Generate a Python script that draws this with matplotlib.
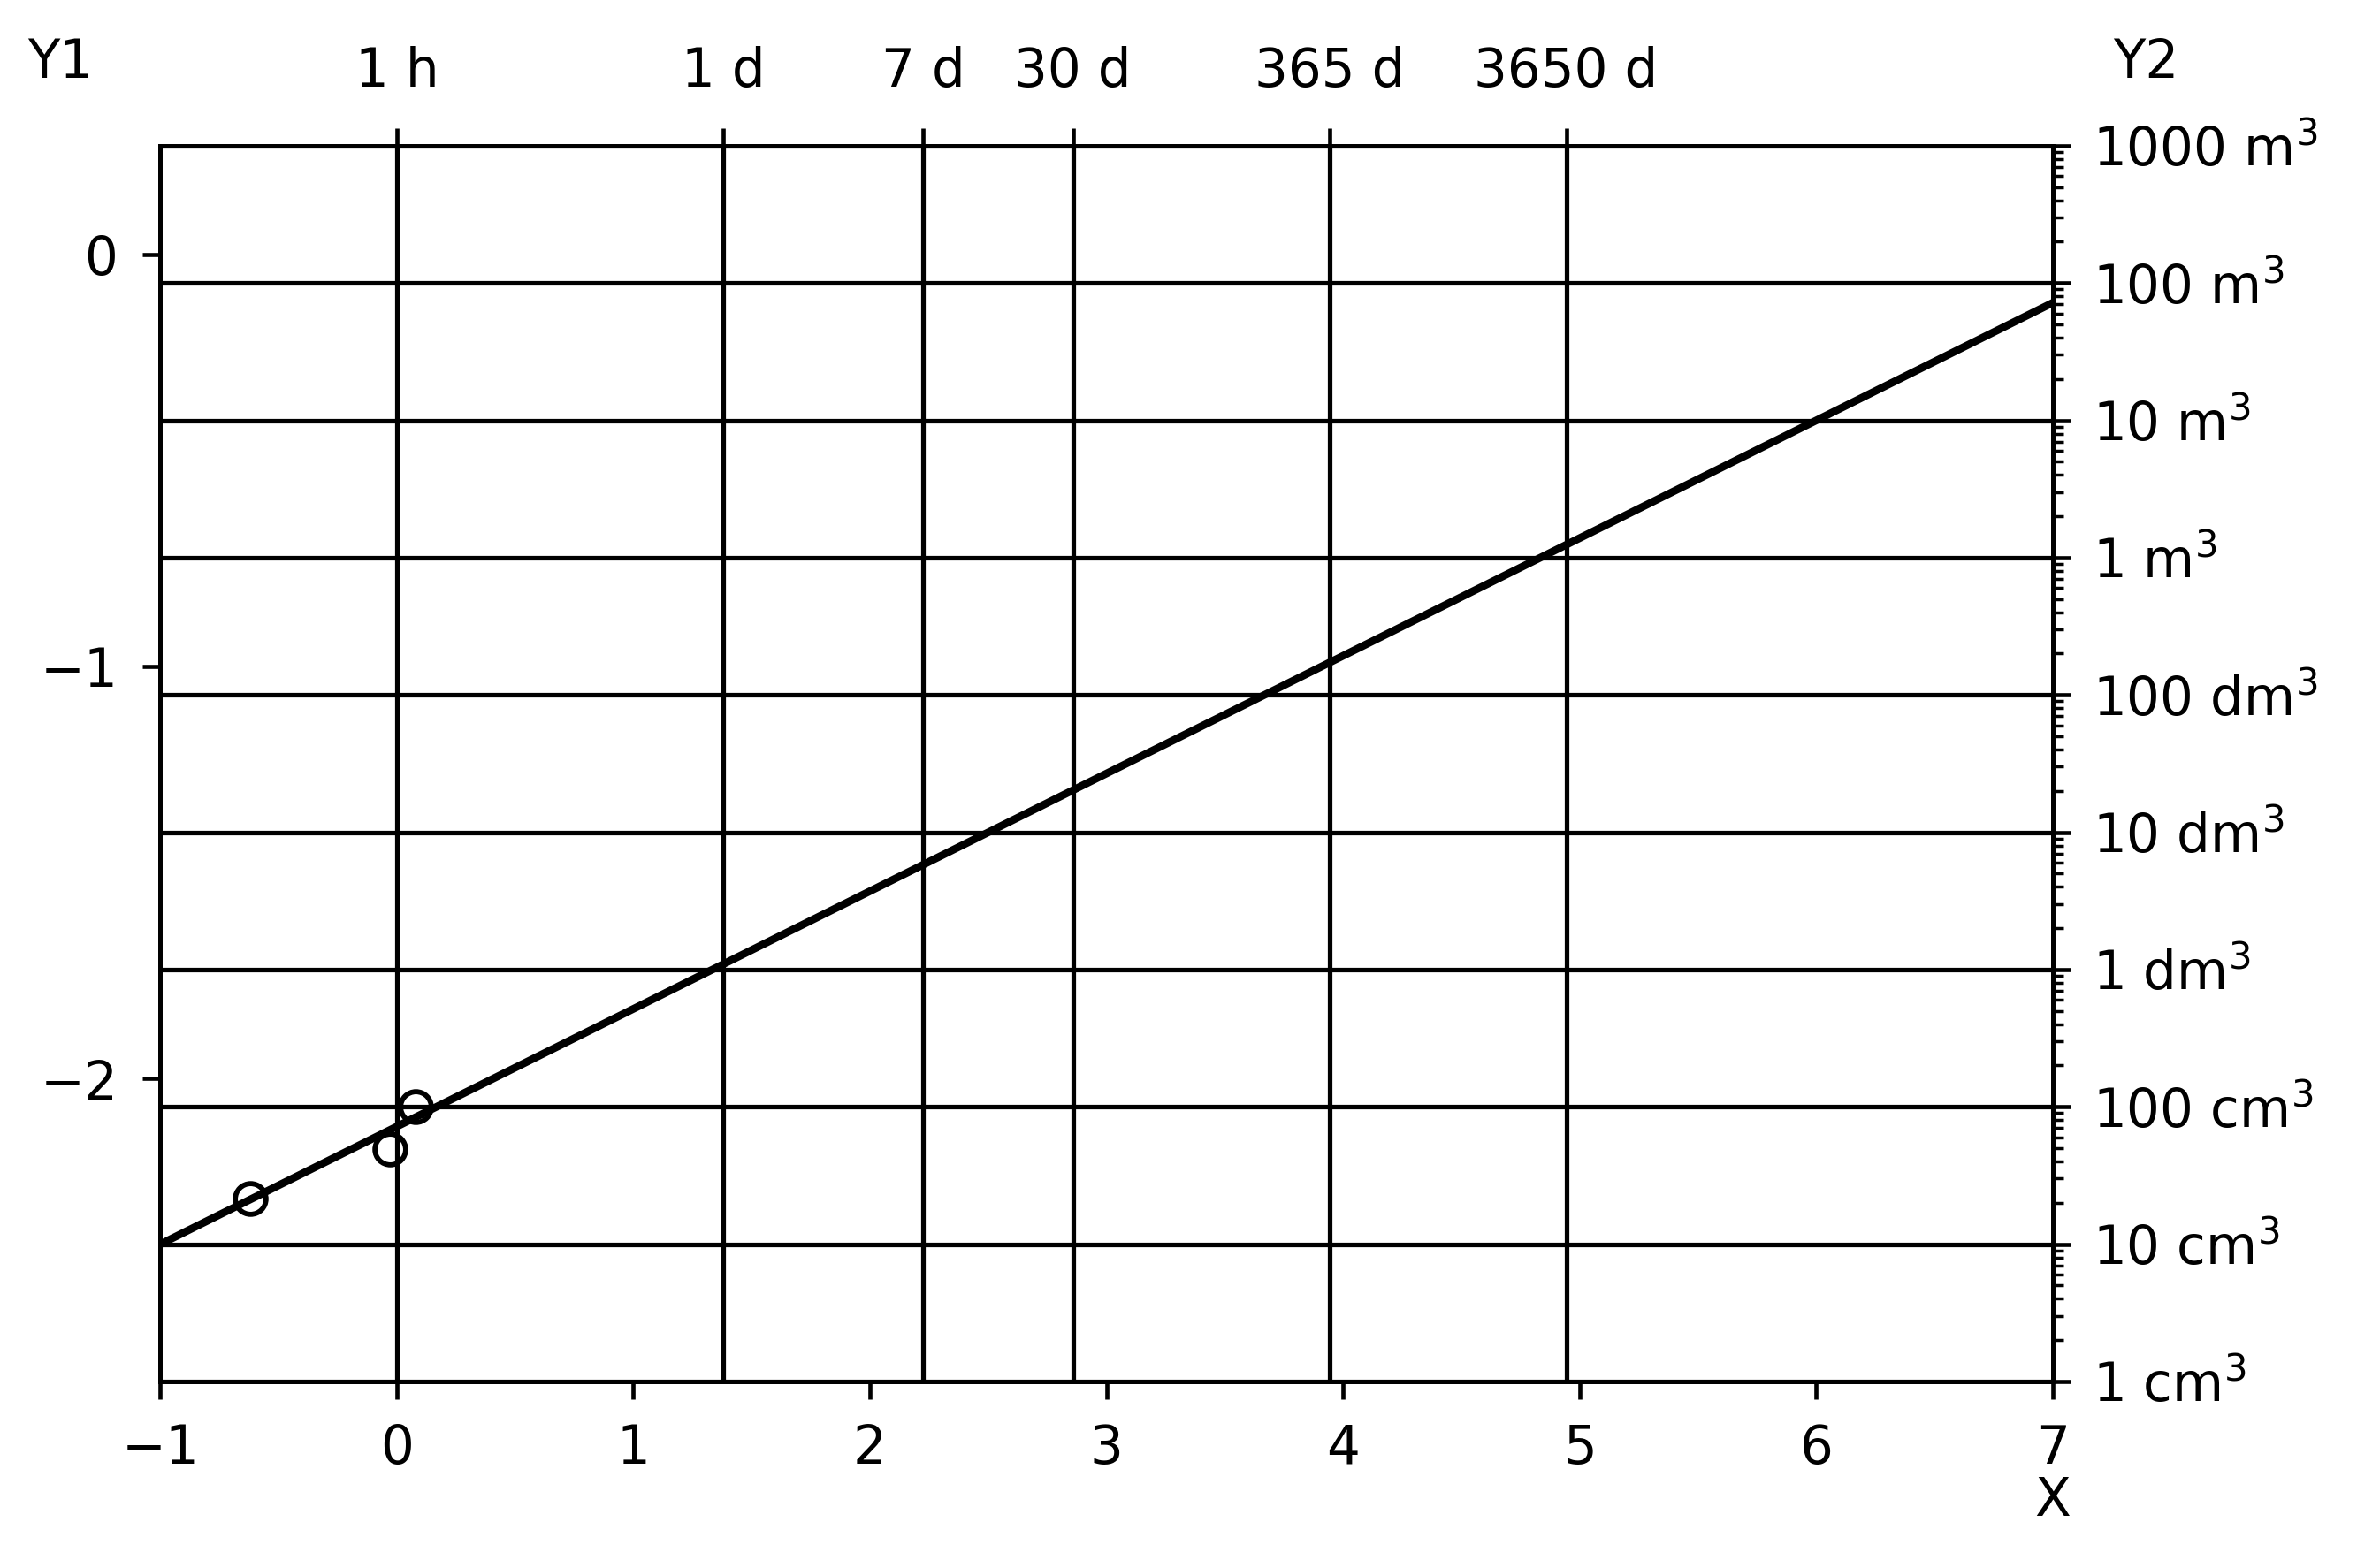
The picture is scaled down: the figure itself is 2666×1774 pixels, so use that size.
import numpy as np
import matplotlib.pyplot as plt
from matplotlib.ticker import LogLocator, NullFormatter

plt.rcParams['font.size'] = 10.3

# fitted line and measured points (X vs Y1)
x_line = [-1, 7]
y_line = [-2.402, -0.116]
x_pts = [-0.62, -0.03, 0.08]
y_pts = [-2.29, -2.17, -2.068]

# top axis: durations in hours, placed at log10(hours)
top_hours = [1, 24, 168, 720, 8760, 87600]
top_labels = ['1 h', '1 d', '7 d', '30 d', '365 d', '3650 d']

# right axis: volumes in m^3
vol_ticks = [1e-6, 1e-5, 1e-4, 1e-3, 1e-2, 1e-1, 1e0, 1e1, 1e2, 1e3]
vol_labels = ['1 cm$^3$', '10 cm$^3$', '100 cm$^3$', '1 dm$^3$', '10 dm$^3$',
              '100 dm$^3$', '1 m$^3$', '10 m$^3$', '100 m$^3$', '1000 m$^3$']

fig = plt.figure(figsize=(6.4, 4.259), dpi=416.5625)
ax = fig.add_axes([0.068, 0.119, 0.803, 0.788])
ax.plot(x_line, y_line, 'k-', lw=1.5, zorder=5)
ax.plot(x_pts, y_pts, 'o', mec='k', mfc='none', ms=6, zorder=6)
ax.set_xlim(-1, 7)
ax.set_ylim(-2.735, 0.265)
ax.set_xticks(range(-1, 8))
ax.set_yticks([0, -1, -2])
ax.tick_params(axis='x', pad=4.6)
ax.tick_params(axis='y', pad=4.8)
ax.set_xlabel('X', va='center')
ax.xaxis.set_label_coords(1.0, -0.097)
ax.set_ylabel('Y1', rotation=0, va='center', ha='center')
ax.yaxis.set_label_coords(-0.053, 1.067)

top = ax.twiny()
top.set_xlim(-1, 7)
top.set_xticks(np.log10(top_hours))
top.set_xticklabels(top_labels)
top.tick_params(axis='x', pad=5.8)
top.grid(True, color='k', lw=0.9)

right = ax.twinx()
right.set_yscale('log')
right.set_ylim(1e-6, 1e3)
right.set_yticks(vol_ticks)
right.set_yticklabels(vol_labels)
right.yaxis.set_minor_locator(LogLocator(base=10, subs=np.arange(2, 10), numticks=20))
right.yaxis.set_minor_formatter(NullFormatter())
right.tick_params(axis='y', which='major', pad=4.2)
right.grid(True, which='major', axis='y', color='k', lw=0.9)
right.set_ylabel('Y2', rotation=0, va='center', ha='center')
right.yaxis.set_label_coords(1.049, 1.067)

fig.savefig('out.png', dpi=416.5625)
